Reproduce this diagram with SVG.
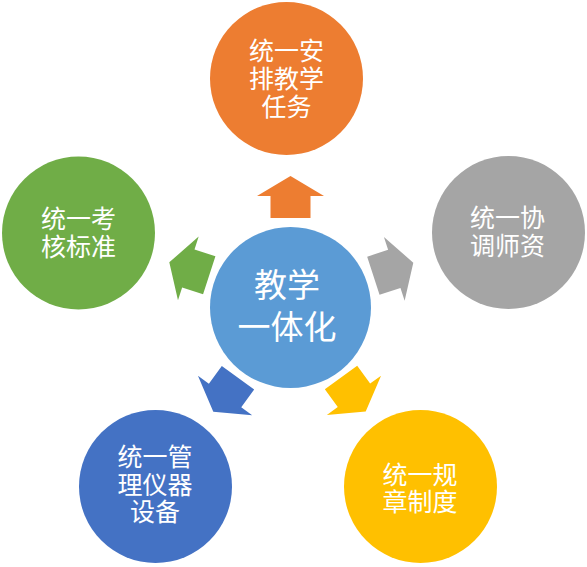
<svg xmlns="http://www.w3.org/2000/svg" width="587" height="567" viewBox="0 0 587 567">
  <defs>
    <style>
      .lbl { font-family: "Noto Sans CJK SC", "Noto Sans", sans-serif; fill: #ffffff; text-anchor: middle; font-size: 25px; }
      .big { font-size: 33px; }
    </style>
    <polygon id="arrow" points="0,0 33.5,20 20,20 20,42 -20,42 -20,20 -33.5,20"/>
  </defs>
  <rect width="587" height="567" fill="#ffffff"/>

  <g id="connectors">
    <use href="#arrow" fill="#ED7D31" transform="translate(290.5,176)"/>
    <use href="#arrow" fill="#70AD47" transform="translate(169.3,262.3) rotate(-72)"/>
    <use href="#arrow" fill="#A5A5A5" transform="translate(413.3,262.7) rotate(72)"/>
    <use href="#arrow" fill="#4472C4" transform="translate(213.3,411.7) rotate(-144)"/>
    <use href="#arrow" fill="#FFC000" transform="translate(365.7,411.5) rotate(144)"/>
  </g>

  <g id="center">
    <circle cx="290.5" cy="307.5" r="80.5" fill="#5B9BD5"/>
    <text class="lbl big"><tspan x="287" y="297">教学</tspan><tspan x="287" y="339">一体化</tspan></text>
  </g>

  <g id="node-top">
    <circle cx="286.5" cy="78.5" r="76.5" fill="#ED7D31"/>
    <text class="lbl"><tspan x="286.5" y="59.5">统一安</tspan><tspan x="286.5" y="87.5">排教学</tspan><tspan x="286.5" y="115.5">任务</tspan></text>
  </g>

  <g id="node-left">
    <circle cx="78.5" cy="233" r="76.5" fill="#70AD47"/>
    <text class="lbl"><tspan x="78.5" y="228">统一考</tspan><tspan x="78.5" y="256">核标准</tspan></text>
  </g>

  <g id="node-right">
    <circle cx="508.5" cy="232.5" r="76.5" fill="#A5A5A5"/>
    <text class="lbl"><tspan x="507.5" y="226.5">统一协</tspan><tspan x="507.5" y="254.5">调师资</tspan></text>
  </g>

  <g id="node-bottom-left">
    <circle cx="155.5" cy="486.5" r="76.5" fill="#4472C4"/>
    <text class="lbl"><tspan x="155" y="466">统一管</tspan><tspan x="155" y="494">理仪器</tspan><tspan x="155" y="521">设备</tspan></text>
  </g>

  <g id="node-bottom-right">
    <circle cx="420.5" cy="486.5" r="76.5" fill="#FFC000"/>
    <text class="lbl"><tspan x="420" y="483.5">统一规</tspan><tspan x="420" y="511">章制度</tspan></text>
  </g>
</svg>
